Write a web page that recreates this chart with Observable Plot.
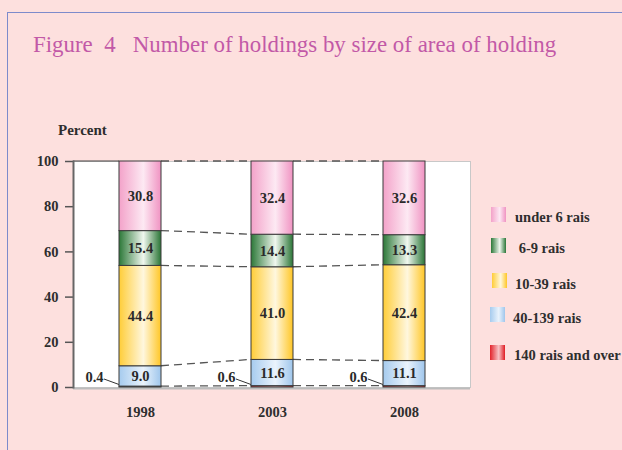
<!DOCTYPE html>
<html><head><meta charset="utf-8">
<script src="https://cdn.jsdelivr.net/npm/d3@7"></script>
<script src="https://cdn.jsdelivr.net/npm/@observablehq/plot@0.6"></script>
<style>
html,body{margin:0;padding:0;background:#fde0de;}
#wrap{position:relative;width:622px;height:450px;overflow:hidden;background:#fde0de;font-family:"Liberation Serif","Times New Roman",serif;}
#border{position:absolute;left:7px;top:12px;width:700px;height:500px;border-left:1.5px solid #7d8bcb;border-top:1.5px solid #7d8bcb;}
#title{position:absolute;left:33px;top:34px;font-size:22.9px;line-height:1;color:#c259a7;white-space:pre;}
#ylab{position:absolute;left:58px;top:123px;font-size:15px;line-height:1;font-weight:bold;color:#2e2e2e;}
#chart{position:absolute;left:0;top:120px;}
.lg-sw{position:absolute;width:15px;height:15px;}
.lg-tx{position:absolute;font-size:14.5px;line-height:1;font-weight:bold;color:#2e2e2e;white-space:pre;}
</style>
</head><body>
<div id="wrap">
  <div id="border"></div>
  <div id="title">Figure  4   Number of holdings by size of area of holding</div>
  <div id="ylab">Percent</div>
  <div id="chart"></div>
  <div id="legend"></div>
</div>
<script>
// ---------- data ----------
const years = ["1998", "2003", "2008"];
const sizeClasses = ["140 rais and over", "40-139 rais", "10-39 rais", "6-9 rais", "under 6 rais"];
const v140over = [0.4, 0.6, 0.6];
const v40to139 = [9.0, 11.6, 11.1];
const v10to39 = [44.4, 41.0, 42.4];
const v6to9 = [15.4, 14.4, 13.3];
const vUnder6 = [30.8, 32.4, 32.6];
const yTicks = [0, 20, 40, 60, 80, 100];
const legendOrder = ["under 6 rais", "6-9 rais", "10-39 rais", "40-139 rais", "140 rais and over"];
const legendText = ["under 6 rais", " 6-9 rais", "10-39 rais", "40-139 rais", "140 rais and over"];

// ---------- styles (not data) ----------
const FS = 14.5;
const gradStops = {
  "140 rais and over": ["#e3232b", "#f7c4c6", "#e01c24"],
  "40-139 rais": ["#a6cbee", "#eaf3fc", "#9fc6ec"],
  "10-39 rais": ["#ffcd38", "#fff7de", "#ffc626"],
  "6-9 rais": ["#2c7838", "#f0f7ef", "#2a7536"],
  "under 6 rais": ["#f3a2c9", "#fde9f3", "#f093c2"]
};
const legendLayout = [
  {sw: [491, 207], tx: [515, 210]},
  {sw: [491, 238], tx: [515, 241]},
  {sw: [492, 273], tx: [515, 277]},
  {sw: [490, 307], tx: [513, 311]},
  {sw: [490, 345], tx: [514, 348]}
];

const seriesValues = [v140over, v40to139, v10to39, v6to9, vUnder6];
const rows = [];
sizeClasses.forEach((c, k) => years.forEach((y, i) => rows.push({year: y, cls: c, value: seriesValues[k][i]})));
const cum = years.map((y, i) => Array.from(d3.cumsum(seriesValues.map(s => s[i]))));
const gradId = c => "grad" + sizeClasses.indexOf(c);

const ns = "http://www.w3.org/2000/svg";
function el(name, attrs) {
  const e = document.createElementNS(ns, name);
  for (const k in attrs) e.setAttribute(k, attrs[k]);
  return e;
}

function overlay(index, scales) {
  const x = scales.x, y = scales.y;
  const bw = x.bandwidth ? x.bandwidth() : 0;
  const g = el("g", {});
  g.appendChild(el("line", {x1: x.range ? Math.min(...x.range()) : 73, y1: y(100), x2: x(years[0]), y2: y(100), stroke: "#444", "stroke-width": 1.2}));
  for (let k = 0; k < sizeClasses.length; k++) {
    for (let i = 0; i < years.length - 1; i++) {
      g.appendChild(el("line", {
        x1: x(years[i]) + bw, y1: y(cum[i][k]),
        x2: x(years[i + 1]), y2: y(cum[i + 1][k]),
        stroke: "#555", "stroke-width": 1.3, "stroke-dasharray": "8,5"
      }));
    }
  }
  years.forEach((yr) => {
    const xl = x(yr), y0 = y(0);
    g.appendChild(el("line", {x1: xl - 15, y1: y0 - 8, x2: xl, y2: y0 - 2.5, stroke: "#333", "stroke-width": 1}));
  });
  return g;
}

const plot = Plot.plot({
  width: 622, height: 310,
  marginLeft: 73, marginRight: 152, marginTop: 41, marginBottom: 43,
  style: {background: "transparent", fontFamily: "'Liberation Serif', 'Times New Roman', serif", fontWeight: "bold", fontSize: FS + "px", color: "#2e2e2e", overflow: "visible"},
  x: {domain: years, paddingInner: 0.684, paddingOuter: 0.335, label: null},
  y: {domain: [0, 100], label: null},
  color: {domain: sizeClasses, range: sizeClasses.map(c => `url(#${gradId(c)})`)},
  marks: [
    Plot.frame({fill: "white", stroke: "#c8c8c8"}),
    Plot.ruleY([0], {stroke: "#bcbcbc", strokeWidth: 2, dy: 1}),
    Plot.axisY({ticks: yTicks, tickSize: 8, tickPadding: 7, stroke: "#555", strokeWidth: 1.5, fill: "#2e2e2e", fontSize: FS, fontWeight: "bold", label: null}),
    Plot.axisX({tickSize: 0, tickPadding: 19, fill: "#2e2e2e", fontSize: FS, fontWeight: "bold", label: null}),
    overlay,
    Plot.barY(rows, {x: "year", y: "value", fill: "cls", order: sizeClasses, stroke: "#3a3a3a", strokeWidth: 1}),
    Plot.text(rows, Plot.stackY({x: "year", y: "value", z: "cls", order: sizeClasses,
      text: d => d.cls === sizeClasses[0] ? "" : d.value.toFixed(1), fill: "#2a2a2a", fontSize: FS, fontWeight: "bold"})),
    Plot.text(rows.filter(d => d.cls === sizeClasses[0]), {x: "year", y: () => 0, text: d => d.value.toFixed(1),
      textAnchor: "end", dx: -37, dy: -10, fill: "#2a2a2a", fontSize: FS, fontWeight: "bold"}),
    Plot.frame({anchor: "left", stroke: "#666", strokeWidth: 2})
  ]
});

const svg = plot.tagName.toLowerCase() === "svg" ? plot : plot.querySelector("svg");
const defs = el("defs", {});
sizeClasses.forEach(c => {
  const lg = el("linearGradient", {id: gradId(c), x1: "0", y1: "0", x2: "1", y2: "0"});
  const s = gradStops[c];
  [0, 0.58, 1].forEach((o, j) => lg.appendChild(el("stop", {offset: o, "stop-color": s[j]})));
  defs.appendChild(lg);
});
svg.insertBefore(defs, svg.firstChild);
document.getElementById("chart").appendChild(plot);

const legend = document.getElementById("legend");
legendOrder.forEach((c, i) => {
  const s = gradStops[c], L = legendLayout[i];
  const sw = document.createElement("div");
  sw.className = "lg-sw";
  sw.style.left = L.sw[0] + "px"; sw.style.top = L.sw[1] + "px";
  sw.style.background = `linear-gradient(to right, ${s[0]} 0%, ${s[1]} 58%, ${s[2]} 100%)`;
  legend.appendChild(sw);
  const tx = document.createElement("div");
  tx.className = "lg-tx";
  tx.style.left = L.tx[0] + "px"; tx.style.top = L.tx[1] + "px";
  tx.textContent = legendText[i];
  legend.appendChild(tx);
});
</script>
</body></html>
